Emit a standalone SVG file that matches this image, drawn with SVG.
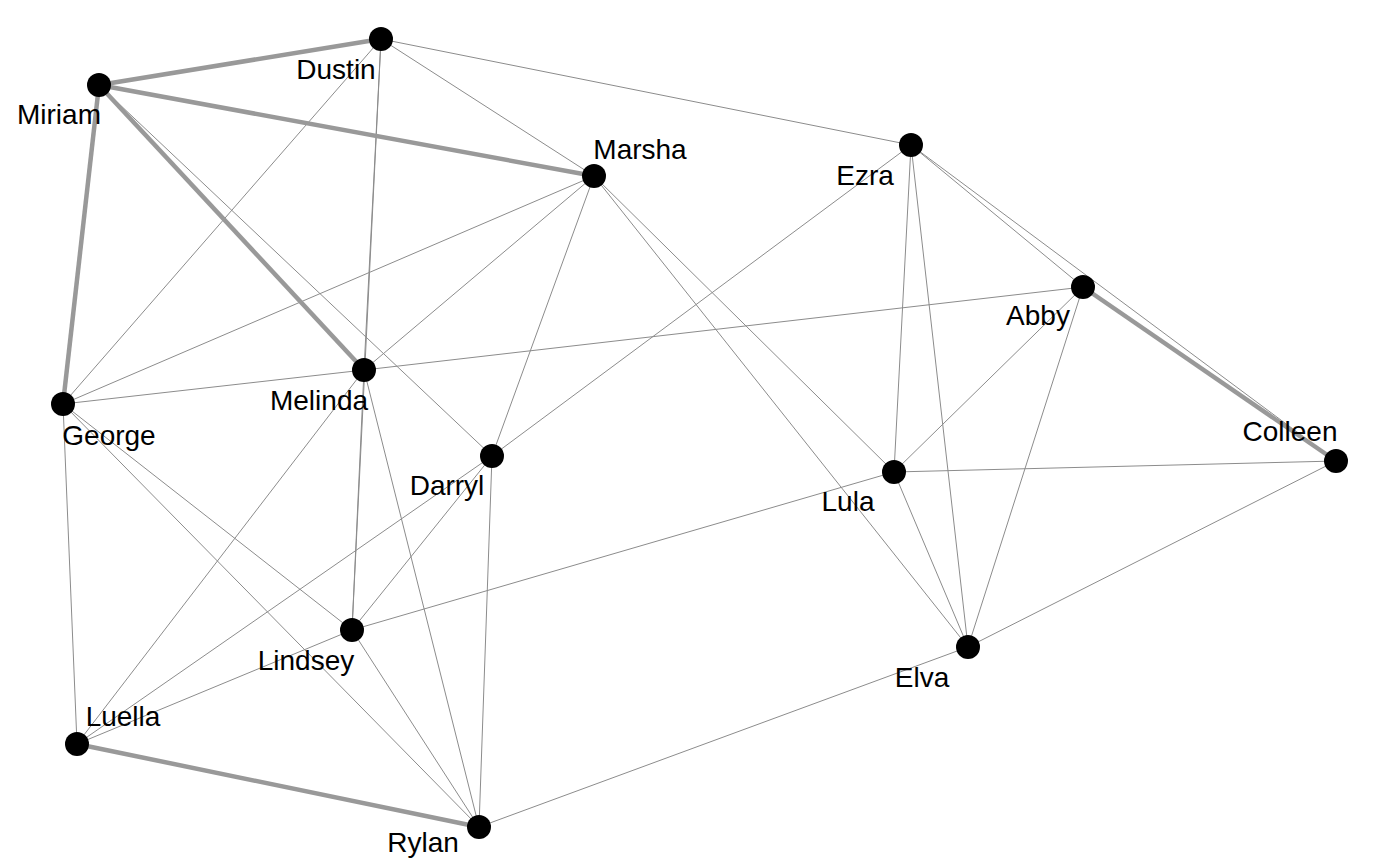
<svg xmlns="http://www.w3.org/2000/svg" width="1400" height="866" viewBox="0 0 1400 866">
<style>
.e{stroke:#8c8c8c;stroke-width:1;fill:none}
.t{stroke:#999999;stroke-width:4.5;fill:none}
.n circle{fill:#000}
.n text{font-family:"Liberation Sans",Arial,sans-serif;font-size:28px;fill:#000;text-anchor:middle}
</style>
<rect width="1400" height="866" fill="#fff"/>
<g id="edges">
<line class="e" x1="381" y1="39" x2="911" y2="145"/>
<line class="e" x1="381" y1="39" x2="594" y2="176"/>
<line class="e" x1="381" y1="39" x2="63" y2="404"/>
<line class="e" x1="381" y1="39" x2="364" y2="370"/>
<line class="e" x1="381" y1="39" x2="352" y2="630"/>
<line class="e" x1="364" y1="370" x2="352" y2="630"/>
<line class="e" x1="99" y1="85" x2="492" y2="456"/>
<line class="e" x1="594" y1="176" x2="63" y2="404"/>
<line class="e" x1="594" y1="176" x2="364" y2="370"/>
<line class="e" x1="594" y1="176" x2="492" y2="456"/>
<line class="e" x1="594" y1="176" x2="894" y2="472"/>
<line class="e" x1="594" y1="176" x2="968" y2="647"/>
<line class="e" x1="911" y1="145" x2="492" y2="456"/>
<line class="e" x1="911" y1="145" x2="1083" y2="287"/>
<line class="e" x1="911" y1="145" x2="1336" y2="461"/>
<line class="e" x1="911" y1="145" x2="894" y2="472"/>
<line class="e" x1="911" y1="145" x2="968" y2="647"/>
<line class="e" x1="63" y1="404" x2="364" y2="370"/>
<line class="e" x1="364" y1="370" x2="1083" y2="287"/>
<line class="e" x1="1083" y1="287" x2="894" y2="472"/>
<line class="e" x1="1083" y1="287" x2="968" y2="647"/>
<line class="e" x1="1336" y1="461" x2="894" y2="472"/>
<line class="e" x1="1336" y1="461" x2="968" y2="647"/>
<line class="e" x1="63" y1="404" x2="352" y2="630"/>
<line class="e" x1="63" y1="404" x2="479" y2="827"/>
<line class="e" x1="63" y1="404" x2="77" y2="744"/>
<line class="e" x1="364" y1="370" x2="77" y2="744"/>
<line class="e" x1="364" y1="370" x2="479" y2="827"/>
<line class="e" x1="492" y1="456" x2="352" y2="630"/>
<line class="e" x1="492" y1="456" x2="77" y2="744"/>
<line class="e" x1="492" y1="456" x2="479" y2="827"/>
<line class="e" x1="894" y1="472" x2="352" y2="630"/>
<line class="e" x1="894" y1="472" x2="968" y2="647"/>
<line class="e" x1="352" y1="630" x2="77" y2="744"/>
<line class="e" x1="352" y1="630" x2="479" y2="827"/>
<line class="e" x1="968" y1="647" x2="479" y2="827"/>
<line class="t" x1="99" y1="85" x2="381" y2="39"/>
<line class="t" x1="99" y1="85" x2="594" y2="176"/>
<line class="t" x1="99" y1="85" x2="63" y2="404"/>
<line class="t" x1="99" y1="85" x2="364" y2="370"/>
<line class="t" x1="1083" y1="287" x2="1336" y2="461"/>
<line class="t" x1="77" y1="744" x2="479" y2="827"/>
</g>
<g id="Dustin" class="n"><circle cx="381" cy="39" r="12"/><text x="336" y="79">Dustin</text></g>
<g id="Miriam" class="n"><circle cx="99" cy="85" r="12"/><text x="59" y="124">Miriam</text></g>
<g id="Marsha" class="n"><circle cx="594" cy="176" r="12"/><text x="640" y="159">Marsha</text></g>
<g id="Ezra" class="n"><circle cx="911" cy="145" r="12"/><text x="865" y="185">Ezra</text></g>
<g id="Abby" class="n"><circle cx="1083" cy="287" r="12"/><text x="1038" y="325">Abby</text></g>
<g id="Melinda" class="n"><circle cx="364" cy="370" r="12"/><text x="319" y="410">Melinda</text></g>
<g id="George" class="n"><circle cx="63" cy="404" r="12"/><text x="109" y="445">George</text></g>
<g id="Darryl" class="n"><circle cx="492" cy="456" r="12"/><text x="447" y="495">Darryl</text></g>
<g id="Lula" class="n"><circle cx="894" cy="472" r="12"/><text x="848" y="511">Lula</text></g>
<g id="Colleen" class="n"><circle cx="1336" cy="461" r="12"/><text x="1290" y="441">Colleen</text></g>
<g id="Lindsey" class="n"><circle cx="352" cy="630" r="12"/><text x="306" y="670">Lindsey</text></g>
<g id="Elva" class="n"><circle cx="968" cy="647" r="12"/><text x="922" y="687">Elva</text></g>
<g id="Luella" class="n"><circle cx="77" cy="744" r="12"/><text x="123" y="726">Luella</text></g>
<g id="Rylan" class="n"><circle cx="479" cy="827" r="12"/><text x="423" y="852">Rylan</text></g>
</svg>
